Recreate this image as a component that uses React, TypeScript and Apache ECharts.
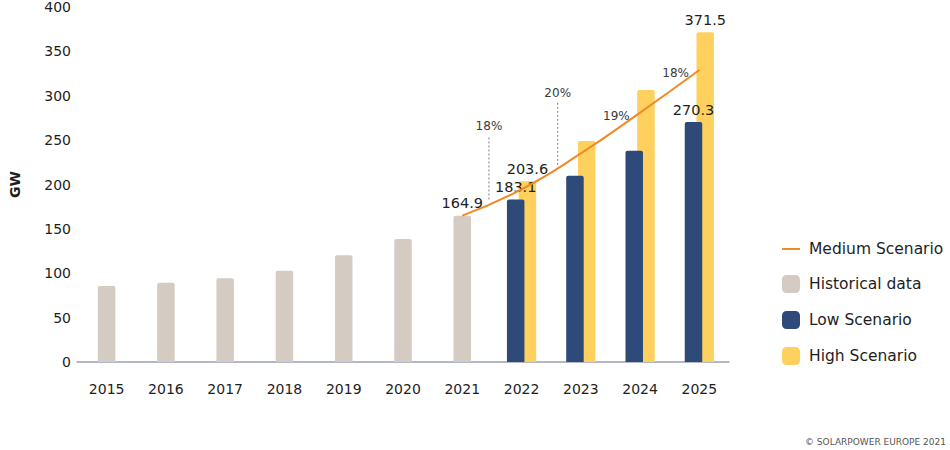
import React, { useEffect, useRef } from "react";
import * as echarts from "echarts";

const years = ["2015", "2016", "2017", "2018", "2019", "2020", "2021", "2022", "2023", "2024", "2025"];
const historical: (number | string)[] = [85.6, 89.4, 94.3, 102.9, 120.2, 138.6, 164.9, "-", "-", "-", "-"];
const lowScenario: (number | string)[] = ["-", "-", "-", "-", "-", "-", "-", 183.1, 210, 238, 270.3];
const highScenario: (number | string)[] = ["-", "-", "-", "-", "-", "-", "-", 203.6, 249, 306.5, 371.5];
const mediumScenario: (number | string)[] = ["-", "-", "-", "-", "-", "-", 164.9, 194.6, 235, 281, 329];
const historicalLabeled = [6];
const lowLabeled = [7, 10];
const highLabeled = [7, 10];
const yTicks = { min: 0, max: 400, interval: 50 };

// growth-rate annotations: text, category position, value
const growthText = ["18%", "20%", "19%", "18%"];
const growthPos = [6.45, 7.61, 8.6, 9.6];
const growthVal = [266, 303, 277, 326];
// dotted guide lines: category position, from value, to value
const guidePos = [6.45, 7.61];
const guideFrom = [253, 292];
const guideTo = [181, 220];

const FONT = "'DejaVu Sans', sans-serif";
const TEXT = "#1e1e1e";

const withLabels = (vals: (number | string)[], labeled: number[]) =>
  vals.map((v, i) =>
    labeled.includes(i) ? { value: v, label: { show: true } } : { value: v }
  );

export default function App() {
  const ref = useRef<HTMLDivElement>(null);
  useEffect(() => {
    document.body.style.margin = "0";
    const chart = echarts.init(ref.current!, null, { renderer: "svg" });
    const barLabel = {
      show: false,
      position: "top",
      distance: 5,
      fontSize: 14.5,
      color: TEXT,
      fontFamily: FONT,
    };
    chart.setOption({
      animation: false,
      backgroundColor: "#ffffff",
      textStyle: { fontFamily: FONT },
      grid: { left: 76, right: 221, top: 7, bottom: 88 },
      legend: {
        orient: "vertical",
        left: 776,
        top: 236,
        itemWidth: 18,
        itemHeight: 18,
        itemGap: 18,
        textStyle: { fontSize: 15.5, color: TEXT, fontFamily: FONT, padding: [0, 0, 0, 4] },
        data: [
          { name: "Medium Scenario", itemStyle: { opacity: 0 } },
          { name: "Historical data", icon: "roundRect" },
          { name: "Low Scenario", icon: "roundRect" },
          { name: "High Scenario", icon: "roundRect" },
        ],
      },
      xAxis: [
        {
          type: "category",
          data: years,
          axisLine: { show: true, lineStyle: { color: "#9aa0b4", width: 1.5 } },
          axisTick: { show: false },
          axisLabel: { color: TEXT, fontSize: 14, margin: 20, fontFamily: FONT },
        },
        {
          type: "category",
          data: years,
          show: false,
        },
      ],
      yAxis: {
        type: "value",
        min: yTicks.min,
        max: yTicks.max,
        interval: yTicks.interval,
        name: "GW",
        nameLocation: "middle",
        nameRotate: 90,
        nameGap: 55,
        nameTextStyle: { fontSize: 14, fontWeight: "bold", color: TEXT, fontFamily: FONT },
        axisLine: { show: false },
        axisTick: { show: false },
        splitLine: { show: false },
        axisLabel: { color: TEXT, fontSize: 14, margin: 6, fontFamily: FONT },
      },
      series: [
        {
          name: "Historical data",
          type: "bar",
          xAxisIndex: 1,
          barWidth: 17.5,
          itemStyle: { color: "#d4cbc2", borderRadius: [2, 2, 0, 0] },
          label: barLabel,
          data: withLabels(historical, historicalLabeled),
        },
        {
          name: "Low Scenario",
          type: "bar",
          xAxisIndex: 0,
          barWidth: 17.5,
          barGap: "-33%",
          z: 3,
          itemStyle: { color: "#2e4a79", borderRadius: [2, 2, 0, 0] },
          label: barLabel,
          data: withLabels(lowScenario, lowLabeled),
        },
        {
          name: "High Scenario",
          type: "bar",
          xAxisIndex: 0,
          barWidth: 17.5,
          barGap: "-33%",
          z: 2,
          itemStyle: { color: "#fed05d", borderRadius: [2, 2, 0, 0] },
          label: barLabel,
          data: withLabels(highScenario, highLabeled),
        },
        {
          name: "Medium Scenario",
          type: "line",
          xAxisIndex: 0,
          smooth: true,
          symbol: "none",
          z: 4,
          lineStyle: { color: "#f08a24", width: 2 },
          itemStyle: { color: "#f08a24" },
          data: mediumScenario,
        },
      ],
    });

    const toPx = (pos: number, val: number) => {
      const lo = Math.floor(pos);
      const frac = pos - lo;
      const p0 = chart.convertToPixel({ xAxisIndex: 0, yAxisIndex: 0 }, [lo, val]) as number[];
      const p1 = chart.convertToPixel({ xAxisIndex: 0, yAxisIndex: 0 }, [lo + 1, val]) as number[];
      return [p0[0] + frac * (p1[0] - p0[0]), p0[1]];
    };

    const graphics: any[] = [];
    guidePos.forEach((p, i) => {
      const a = toPx(p, guideFrom[i]);
      const b = toPx(p, guideTo[i]);
      graphics.push({
        type: "line",
        shape: { x1: a[0], y1: a[1], x2: b[0], y2: b[1] },
        style: { stroke: "#7a7f90", lineWidth: 1, lineDash: [2, 2] },
        z: 1,
      });
    });
    growthText.forEach((t, i) => {
      const a = toPx(growthPos[i], growthVal[i]);
      graphics.push({
        type: "text",
        x: a[0],
        y: a[1],
        style: {
          text: t,
          fontSize: 12,
          fill: "#3a3a3a",
          fontFamily: FONT,
          textAlign: "center",
          textVerticalAlign: "middle",
        },
        z: 10,
      });
    });
    graphics.push({
      type: "text",
      right: 4,
      top: 437,
      style: { text: "© SOLARPOWER EUROPE 2021", fontSize: 9, fill: "#555555", fontFamily: FONT },
    });
    chart.setOption({ graphic: graphics });

    return () => chart.dispose();
  }, []);
  return <div ref={ref} style={{ width: 950, height: 450 }} />;
}
